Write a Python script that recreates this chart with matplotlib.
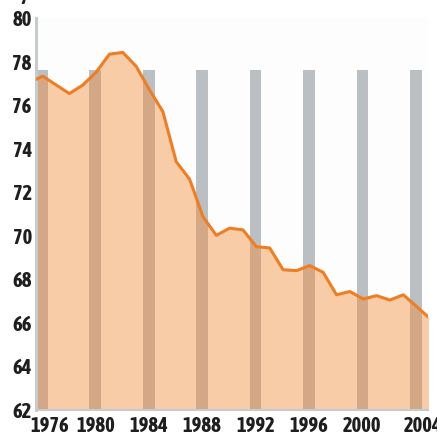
import matplotlib
matplotlib.use("Agg")
import matplotlib.pyplot as plt
import matplotlib.transforms as mtransforms
from matplotlib import font_manager

# ---- data ----
years = list(range(1975, 2006))          # annual values, plotted at mid-year
values = [77.03, 77.33, 76.93, 76.53, 76.92, 77.51, 78.34, 78.42, 77.78, 76.70,
          75.70, 73.40, 72.60, 70.88, 70.02, 70.35, 70.27, 69.50, 69.44, 68.44,
          68.40, 68.63, 68.32, 67.29, 67.44, 67.10, 67.25, 67.05, 67.29, 66.75,
          66.20]
bar_years = [1976, 1980, 1984, 1988, 1992, 1996, 2000, 2004]
bar_top = 77.6
tick_labels = ["1976", "1980", "1984", "1988", "1992", "1996", "2000", "2004"]
y_ticks = [62, 64, 66, 68, 70, 72, 74, 76, 78, 80]

# ---- fonts: prefer a condensed / narrow bold face ----
fp = None
for f in font_manager.fontManager.ttflist:
    n = f.name.lower()
    if ("narrow" in n or "condensed" in n) and f.weight in ("bold", 700):
        fp = font_manager.FontProperties(fname=f.fname)
        break
if fp is None:
    for f in font_manager.fontManager.ttflist:
        if f.stretch in ("condensed", "semi-condensed", 300, 375) and str(f.weight) in ("bold", "700"):
            fp = font_manager.FontProperties(fname=f.fname)
            break
if fp is None:
    fp = font_manager.FontProperties(family="Roboto", weight="bold")
    size = 11.3
else:
    size = 14.8
fp.set_size(size)

fig = plt.figure(figsize=(4.37, 4.32), dpi=100)
ax = fig.add_axes([36 / 437, 22 / 432, 392 / 437, 392 / 432])

# gray bars
ax.bar(bar_years, [bar_top - 62] * len(bar_years), bottom=62, width=0.88,
       align="edge", color="#b9bfc3", zorder=1)

# fill + line
xs = [y + 0.5 for y in years]
ax.fill_between(xs, values, 62, color="#f58a33", alpha=0.42, lw=0, zorder=2)
ax.plot(xs, values, color="#ef7d22", lw=2.2, zorder=3, solid_joinstyle="round")

ax.set_xlim(1976, 2005.35)
ax.set_ylim(62, 80)

ax.set_yticks(y_ticks)
ax.set_yticklabels([str(v) for v in y_ticks])
ax.set_xticks([b + 0.44 for b in bar_years])
ax.set_xticklabels(tick_labels)
ax.tick_params(axis="both", length=0, labelcolor="#1e1e1e")
ax.tick_params(axis="y", pad=3)
ax.tick_params(axis="x", pad=4)
for lab in ax.get_xticklabels() + ax.get_yticklabels():
    lab.set_fontproperties(fp)

# nudge first and last x labels as in the reference
xl = ax.get_xticklabels()
xl[0].set_transform(xl[0].get_transform() + mtransforms.ScaledTranslation(8 / 100, 0, fig.dpi_scale_trans))
xl[-1].set_transform(xl[-1].get_transform() + mtransforms.ScaledTranslation(7 / 100, 0, fig.dpi_scale_trans))

for s in ["top", "right"]:
    ax.spines[s].set_visible(False)
ax.spines["left"].set_color("#c6cbce")
ax.spines["left"].set_linewidth(2.2)
ax.spines["bottom"].set_color("#c6cbce")
ax.spines["bottom"].set_linewidth(1.5)
ax.set_facecolor("#fdfdfd")

# clipped title remnant at the very top
fig.text(20 / 437, 1.0, "y", fontproperties=fp,
         color="#1e1e1e", va="baseline", ha="left")

fig.savefig("out.png", dpi=100)
